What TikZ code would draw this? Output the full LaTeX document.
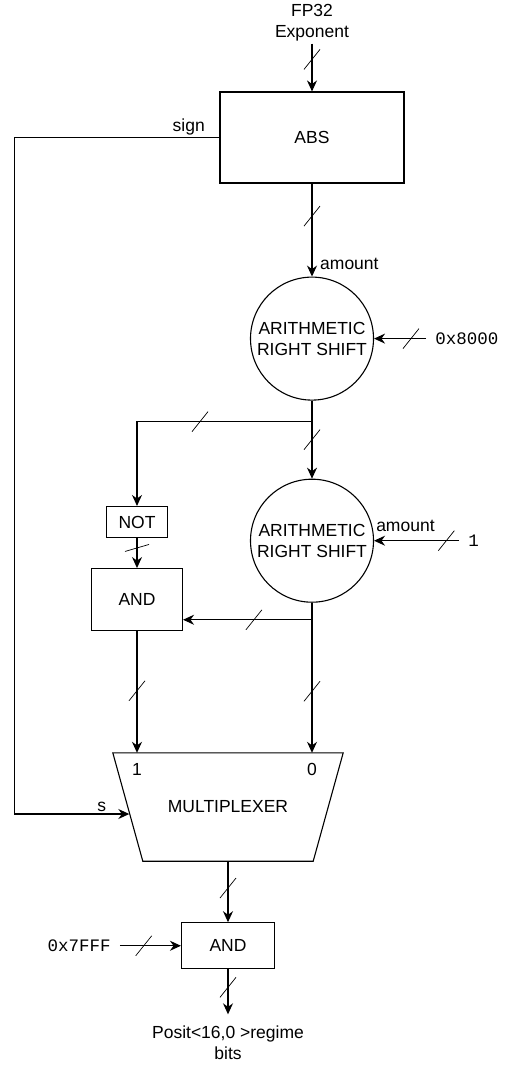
\documentclass[tikz,border=0pt]{standalone}
\usepackage{fontspec}
\setmainfont{Liberation Sans}
\newfontfamily\hexfont{Liberation Mono}
\usetikzlibrary{arrows.meta, positioning}
\tikzset{
  % blocks
  blockbox/.style={rectangle, draw=black, line width=1.1pt, fill=white, text centered, inner sep=2pt},
  shiftcirc/.style={circle, draw=black, line width=1.1pt, minimum size=123pt, inner sep=0pt, align=center},
  muxbody/.style={rectangle, minimum width=230pt, minimum height=108pt, inner sep=0pt},
  muxline/.style={draw=black, line width=1.1pt},
  % labels
  lbl/.style={inner sep=2pt},
  hexlbl/.style={font={\hexfont\fontsize{17.5}{21}\selectfont}, inner xsep=9pt, inner ysep=2pt},
  % connectors
  arrow/.style={-{Stealth[length=11pt, width=10pt]}, line width=1.1pt},
  pics/bus/.style={code={\draw[-, line width=0.7pt] (-8pt,-10pt) -- (8pt,10pt);}},
  pics/flatbus/.style={code={\draw[-, line width=0.7pt] (-12pt,-3.5pt) -- (12pt,3.5pt);}},
}

\begin{document}
\begin{tikzpicture}[x=1pt, y=-1pt, font=\fontsize{17.5}{21}\selectfont]
    \useasboundingbox (0,0) rectangle (505,1068);

    % Input
    \node[lbl, align=center] (fp32) at (312,23) {FP32\\Exponent};

    % Abs
    \node[blockbox, minimum width=184pt, minimum height=91pt] (abs) at (312,137.5) {ABS};

    % Shifts
    \node[shiftcirc, below=93pt of abs] (ash1) {ARITHMETIC\\RIGHT SHIFT};
    \node[shiftcirc, below=78pt of ash1] (ash2) {ARITHMETIC\\RIGHT SHIFT};
    \node[hexlbl, right=52pt of ash1] (c8000) {0x8000};
    \node[hexlbl, right=85pt of ash2] (cone) {1};
    \node[lbl, above right=5pt and 6pt of ash1.north] (amt1) {amount};
    \node[lbl, above right=7pt and 0pt of ash2.east] (amt2) {amount};

    % Not / And
    \node[blockbox, minimum width=61pt, minimum height=31pt] (not) at (137,522) {NOT};
    \node[blockbox, minimum width=91pt, minimum height=62pt, below=30pt of not] (and1) {AND};

    % Multiplexer
    \node[muxbody] (mux) at (228,807) {MULTIPLEXER};
    \coordinate (muxtl) at (mux.north west);
    \coordinate (muxtr) at (mux.north east);
    \coordinate (muxbr) at ([xshift=-30pt]mux.south east);
    \coordinate (muxbl) at ([xshift=30pt]mux.south west);
    \coordinate (muxs) at ([xshift=16.5pt, yshift=-7pt]mux.west);
    \draw[muxline] (muxtl) -- (muxtr) -- (muxbr) -- (muxbl) -- cycle;
    \node[lbl, below=8pt] (one) at (and1 |- mux.north) {1};
    \node[lbl, below=8pt] (zero) at (ash2 |- mux.north) {0};

    % Mask
    \node[blockbox, minimum width=93pt, minimum height=46pt, below=61pt of mux] (and2) {AND};
    \node[hexlbl, left=0pt of and2, xshift=-61pt] (c7fff) {0x7FFF};
    \node[lbl, align=center, inner ysep=11pt, below=45pt of and2] (out) {Posit<16,0 >regime\\bits};

    % Bends
    \coordinate[below=21pt of ash1] (split1);
    \coordinate[below=17pt of ash2] (split2);
    \coordinate[left=205pt of abs.west] (signbend);

    % === Arrows ===
    \draw[arrow] (fp32) -- pic[pos=.33]{bus} (abs);
    \draw[arrow] (abs) -- pic[pos=.35]{bus} (ash1);
    \draw[arrow] (c8000) -- pic[pos=.29]{bus} (ash1);
    \draw[arrow] (cone) -- pic[pos=.15]{bus} (ash2);

    % Branch
    \draw[arrow] (ash1) -- pic[pos=.5]{bus} (ash2);
    \draw[arrow] (split1) -| pic[pos=.32]{bus} (not);
    \draw[arrow] (not) -- pic[pos=.33]{flatbus} (and1);
    \draw[arrow] (ash2) -- pic[pos=.59]{bus} (ash2 |- mux.north);
    \draw[arrow] (split2) -- pic[pos=.45]{bus} (and1.east |- split2);
    \draw[arrow] (and1) -- pic[pos=.49]{bus} (and1 |- mux.north);

    % Sign
    \draw[arrow] (abs.west) -- node[lbl, above, pos=.15] (signlbl) {sign} (signbend) |- node[lbl, above, pos=.88] (slbl) {s} (muxs);

    % Output
    \draw[arrow] (mux) -- pic[pos=.44]{bus} (and2);
    \draw[arrow] (c7fff) -- pic[pos=.39]{bus} (and2);
    \draw[arrow] (and2) -- pic[pos=.4]{bus} (out);
\end{tikzpicture}
\end{document}
